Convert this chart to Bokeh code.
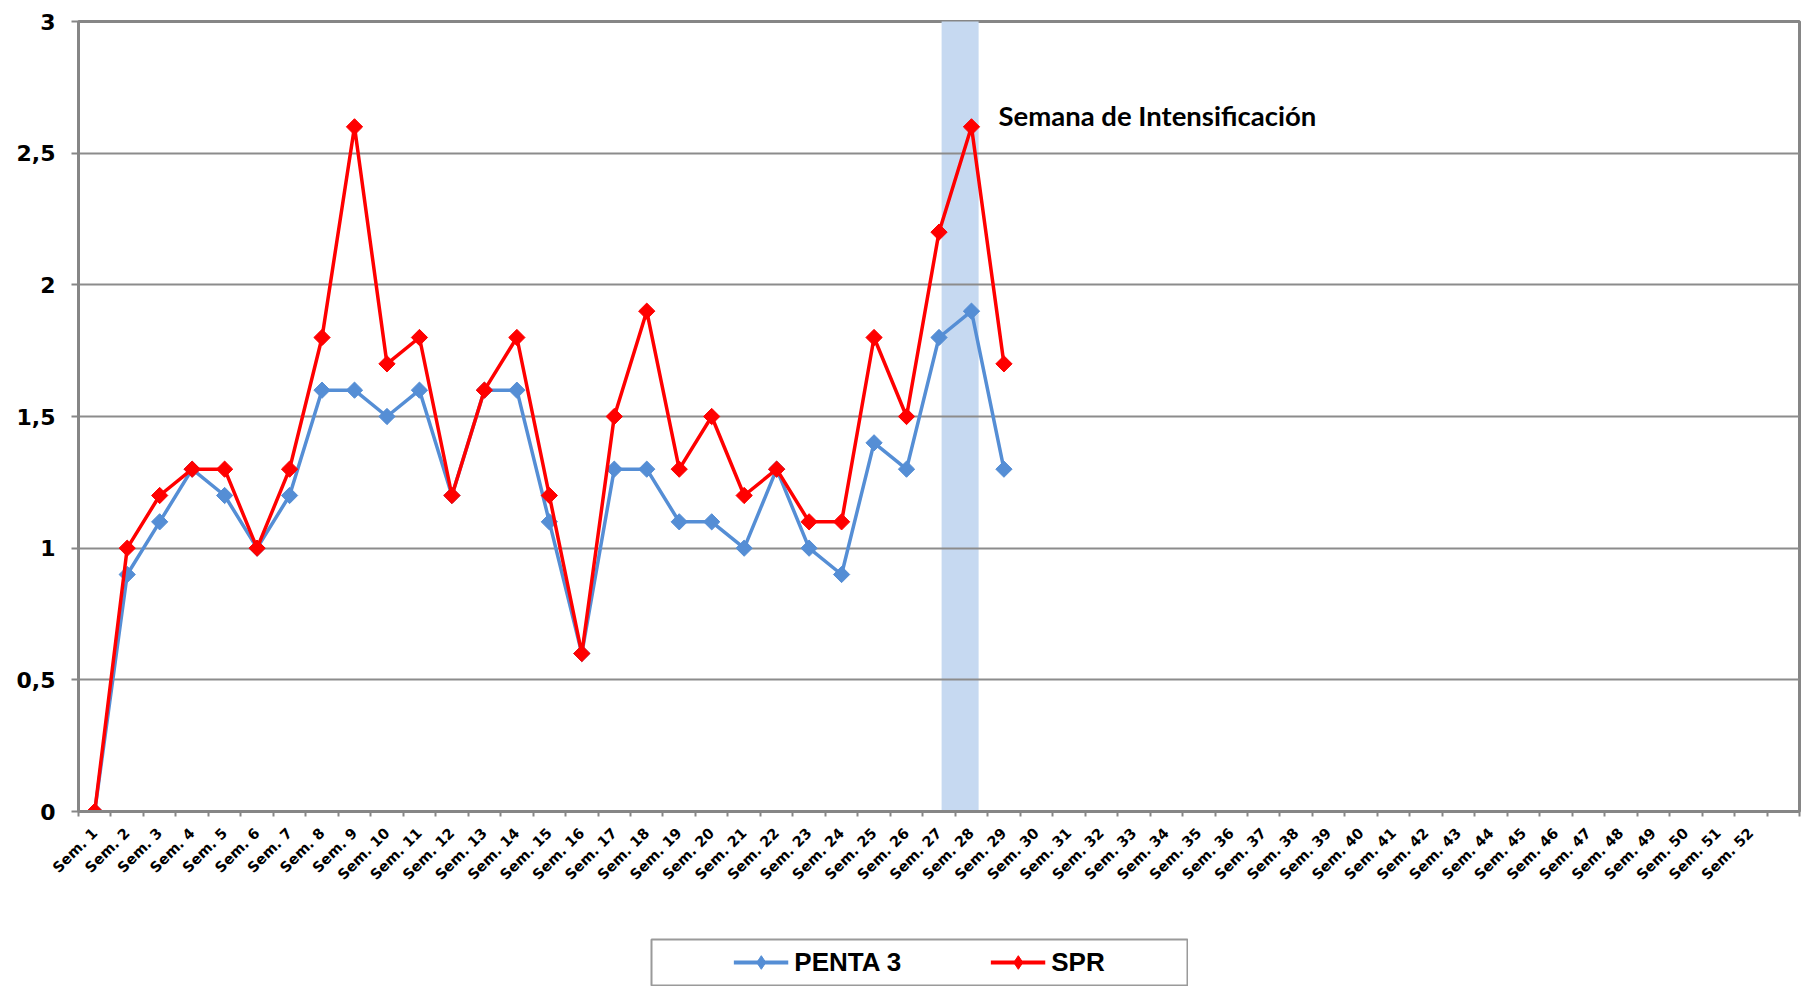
import math
from bokeh.plotting import figure
from bokeh.models import (FixedTicker, Legend, LegendItem, Label, Spacer)
from bokeh.layouts import column, row
from bokeh.embed import file_html
from bokeh.resources import INLINE

weeks = list(range(1, 53))
week_labels = ["Sem. %d" % w for w in weeks]
x_data = list(range(1, 30))
penta3 = [0, 0.9, 1.1, 1.3, 1.2, 1.0, 1.2, 1.6, 1.6, 1.5, 1.6, 1.2, 1.6, 1.6, 1.1,
          0.6, 1.3, 1.3, 1.1, 1.1, 1.0, 1.3, 1.0, 0.9, 1.4, 1.3, 1.8, 1.9, 1.3]
spr = [0, 1.0, 1.2, 1.3, 1.3, 1.0, 1.3, 1.8, 2.6, 1.7, 1.8, 1.2, 1.6, 1.8, 1.2,
       0.6, 1.5, 1.9, 1.3, 1.5, 1.2, 1.3, 1.1, 1.1, 1.8, 1.5, 2.2, 2.6, 1.7]
y_ticks = [0, 0.5, 1, 1.5, 2, 2.5, 3]
y_tick_labels = ["0", "0,5", "1", "1,5", "2", "2,5", "3"]
highlight_week = 28
annotation_text = "Semana de Intensificación"

BLUE = "#558ED5"
RED = "#FF0000"
GRAY = "#868686"
FONT = "DejaVu Sans"

p = figure(width=1804, height=938, x_range=(0.5, 53.5), y_range=(0, 3),
           output_backend="svg", toolbar_location=None,
           min_border_left=78, min_border_right=5, min_border_top=21,
           min_border_bottom=127)
p.background_fill_color = "white"
p.border_fill_color = "white"
p.outline_line_color = GRAY
p.outline_line_width = 3

# highlight band
p.quad(left=[highlight_week - 0.92], right=[highlight_week + 0.22], bottom=[0], top=[3.05],
       fill_color="#C6D9F1", line_color=None, level="image")

# series
l1 = p.line(x_data, penta3, line_color=BLUE, line_width=3.5)
s1 = p.scatter(x_data, penta3, marker="square", angle=math.pi / 4, size=11.5,
               fill_color=BLUE, line_color=BLUE)
l2 = p.line(x_data, spr, line_color=RED, line_width=3.5)
s2 = p.scatter(x_data, spr, marker="square", angle=math.pi / 4, size=11.5,
               fill_color=RED, line_color=RED)

# x axis
xa = p.xaxis[0]
xa.ticker = FixedTicker(ticks=weeks, minor_ticks=[w - 0.5 for w in range(1, 55)])
xa.major_label_overrides = {w: lab for w, lab in zip(weeks, week_labels)}
xa.major_label_orientation = math.pi / 4
xa.major_tick_out = 0
xa.major_tick_in = 0
xa.minor_tick_out = 5
xa.minor_tick_in = 0
xa.minor_tick_line_color = GRAY
xa.minor_tick_line_width = 2
xa.axis_line_color = GRAY
xa.axis_line_width = 3
xa.major_label_text_font = FONT
xa.major_label_text_font_style = "bold"
xa.major_label_text_font_size = "14.5px"
xa.major_label_text_color = "black"
xa.major_label_standoff = 14

# y axis
ya = p.yaxis[0]
ya.ticker = FixedTicker(ticks=y_ticks)
ya.major_label_overrides = {t: lab for t, lab in zip(y_ticks, y_tick_labels)}
ya.major_tick_out = 7
ya.major_tick_in = 0
ya.minor_tick_out = 0
ya.minor_tick_in = 0
ya.major_tick_line_color = GRAY
ya.major_tick_line_width = 2
ya.axis_line_color = GRAY
ya.axis_line_width = 3
ya.major_label_text_font = FONT
ya.major_label_text_font_style = "bold"
ya.major_label_text_font_size = "22px"
ya.major_label_text_color = "black"
ya.major_label_standoff = 16

p.xgrid.grid_line_color = None
p.ygrid.grid_line_color = "#8C8C8C"
p.ygrid.grid_line_width = 2

p.add_layout(Label(x=28.83, y=2.644, text=annotation_text, text_font="Lato",
                   text_font_style="bold", text_font_size="27.5px",
                   text_color="black", text_baseline="alphabetic"))

# legend figure (boxed)
lf = figure(width=538, height=48, x_range=(0, 1), y_range=(0, 1),
            output_backend="svg", toolbar_location=None, min_border=1)
lf.axis.visible = False
lf.grid.visible = False
lf.outline_line_color = "#9A9A9A"
lf.outline_line_width = 2
lf.border_fill_color = "white"
hx = [-5, -4]
hy = [-5, -4]
dl1 = lf.line(hx, hy, line_color=BLUE, line_width=4)
ds1 = lf.scatter(hx, hy, marker="diamond", size=17,
                 fill_color=BLUE, line_color=BLUE)
dl2 = lf.line(hx, hy, line_color=RED, line_width=4)
ds2 = lf.scatter(hx, hy, marker="diamond", size=17,
                 fill_color=RED, line_color=RED)
legend = Legend(items=[LegendItem(label="PENTA 3", renderers=[dl1, ds1]),
                       LegendItem(label="SPR", renderers=[dl2, ds2])],
                orientation="horizontal", location="center",
                border_line_alpha=0, background_fill_alpha=0,
                glyph_width=55, glyph_height=34, label_standoff=6, spacing=89,
                padding=0, margin=0,
                label_text_font="Liberation Sans", label_text_font_style="bold",
                label_text_font_size="26px", label_text_color="black")
lf.add_layout(legend, "center")

layout = column(p, row(Spacer(width=650, height=48), lf))

open("out.html", "w").write(file_html(layout, INLINE))
